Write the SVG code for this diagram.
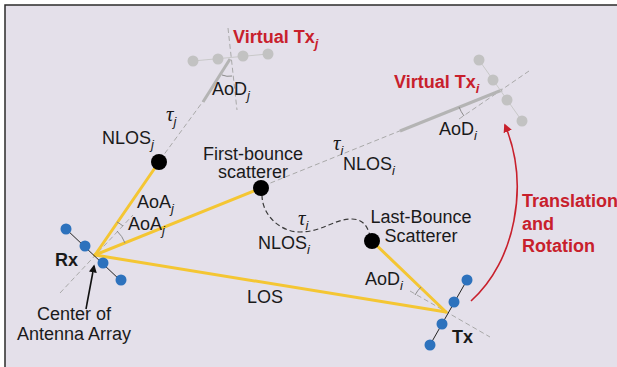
<svg xmlns="http://www.w3.org/2000/svg" width="617" height="367" viewBox="0 0 617 367">
  <defs>
    <style>
      .lbl { font-family: "Liberation Sans", Arial, sans-serif; font-size: 18px; fill: #1a1a1a; }
      .bold { font-weight: bold; }
      .red { fill: #c8202c; font-weight: bold; }
      .sub { font-style: italic; font-size: 13px; }
      .tau { font-family: "Liberation Serif", "Times New Roman", serif; font-style: italic; font-size: 21px; fill: #1a1a1a; }
      .ray { stroke: #f4c633; stroke-width: 3; fill: none; stroke-linecap: round; }
      .guide { stroke: #a9a9a9; stroke-width: 1; stroke-dasharray: 5 3; fill: none; }
      .ghost { stroke: #b4b4b4; stroke-width: 3; fill: none; }
      .arc { stroke: #8a8a8a; stroke-width: 1; fill: none; }
      .blue { fill: #2d72bd; }
      .grey { fill: #c2c2c2; }
      .scat { fill: #000; }
    </style>
    <marker id="headRed" viewBox="0 0 10 10" refX="8" refY="5" markerWidth="5.5" markerHeight="5.5" orient="auto">
      <path d="M0,0 L10,5 L0,10 Z" fill="#c8202c"/>
    </marker>
    <marker id="headBlack" viewBox="0 0 10 10" refX="8" refY="5" markerWidth="5" markerHeight="5" orient="auto">
      <path d="M0,0 L10,5 L0,10 Z" fill="#111"/>
    </marker>
  </defs>

  <!-- panel -->
  <rect x="0" y="0" width="617" height="367" fill="#ffffff"/>
  <rect x="5" y="5" width="612" height="362" fill="#e4e0ea"/>
  <path d="M5,367 V5 H617" stroke="#2b2b2b" stroke-width="1.5" fill="none"/>

  <!-- connectors -->
  <g id="connectors">
    <!-- guide (broadside / extension) lines -->
    <line class="guide" x1="60" y1="293" x2="133" y2="215"/>
    <line class="guide" x1="410" y1="291" x2="490" y2="337"/>
    <line class="guide" x1="228" y1="28" x2="237" y2="110"/>
    <line class="guide" x1="459" y1="119" x2="529" y2="71"/>
    <line class="guide" x1="160" y1="160" x2="204" y2="100"/>
    <line class="guide" x1="263" y1="186" x2="402" y2="130"/>
    <!-- mirrored path segments -->
    <line class="ghost" x1="203" y1="102" x2="230" y2="59"/>
    <line class="ghost" x1="400" y1="131" x2="502" y2="90"/>
    <!-- physical rays -->
    <line class="ray" x1="95" y1="255" x2="159" y2="162"/>
    <line class="ray" x1="95" y1="255" x2="261" y2="188"/>
    <line class="ray" x1="95" y1="255" x2="446" y2="312"/>
    <line class="ray" x1="372" y1="241" x2="446" y2="312"/>
    <!-- multi-bounce path -->
    <path d="M262,195 C262,215 280,232 300,232 C322,232 334,219 352,219 C364,219 368,228 370,236" stroke="#3a3a3a" stroke-width="1.2" stroke-dasharray="5 3" fill="none"/>
    <!-- angle arcs -->
    <path class="arc" d="M117,222 A40,40 0 0 1 123,226"/>
    <path class="arc" d="M117,231 A32,32 0 0 1 125,243"/>
    <path class="arc" d="M415,295 A35,35 0 0 1 421,287"/>
    <path class="arc" d="M222,75 A17,17 0 0 0 232,76"/>
    <path class="arc" d="M459,107 A45,45 0 0 0 464,116"/>
    <!-- transformation arrow -->
    <path d="M471,301 C515,262 530,185 505,125" stroke="#c8202c" stroke-width="1.6" fill="none" marker-end="url(#headRed)"/>
    <!-- pointer to array centre -->
    <line x1="86" y1="309" x2="94" y2="266" stroke="#111" stroke-width="1.6" marker-end="url(#headBlack)"/>
  </g>

  <!-- receiver array -->
  <g id="rx">
    <line x1="66" y1="229" x2="121" y2="281" stroke="#222" stroke-width="1"/>
    <circle class="blue" cx="66" cy="229" r="5.5"/>
    <circle class="blue" cx="85" cy="246" r="5.5"/>
    <circle class="blue" cx="103" cy="263" r="5.5"/>
    <circle class="blue" cx="121" cy="280" r="5.5"/>
    <text class="lbl bold" x="55" y="266" font-size="17">Rx</text>
  </g>

  <g id="array-centre-label">
    <text class="lbl" text-anchor="middle" font-size="17.5"><tspan x="74" y="320">Center of</tspan><tspan x="74" y="340">Antenna Array</tspan></text>
  </g>

  <!-- transmitter array -->
  <g id="tx">
    <line x1="467" y1="280" x2="430" y2="345" stroke="#222" stroke-width="1"/>
    <circle class="blue" cx="467" cy="280" r="5.5"/>
    <circle class="blue" cx="454" cy="302" r="5.5"/>
    <circle class="blue" cx="442" cy="324" r="5.5"/>
    <circle class="blue" cx="430" cy="345" r="5.5"/>
    <text class="lbl bold" x="452" y="343" font-size="17">Tx</text>
  </g>

  <!-- scatterers -->
  <g id="nlos-j">
    <circle class="scat" cx="159" cy="162" r="8"/>
    <text class="lbl" x="102" y="144">NLOS<tspan class="sub" dy="5">j</tspan></text>
  </g>

  <g id="first-bounce">
    <circle class="scat" cx="261" cy="188" r="8"/>
    <text class="lbl" text-anchor="middle" font-size="16.5"><tspan x="253" y="159.5">First-bounce</tspan><tspan x="253" y="178">scatterer</tspan></text>
  </g>

  <g id="last-bounce">
    <circle class="scat" cx="372" cy="241" r="8"/>
    <text class="lbl" text-anchor="middle" font-size="17"><tspan x="421" y="223">Last-Bounce</tspan><tspan x="421" y="242">Scatterer</tspan></text>
  </g>

  <!-- mirrored (virtual) transmitters -->
  <g id="virtual-tx-j">
    <line x1="193" y1="61" x2="268" y2="54" stroke="#c8c8c8" stroke-width="1"/>
    <circle class="grey" cx="193" cy="61" r="5.5"/>
    <circle class="grey" cx="218" cy="59" r="5.5"/>
    <circle class="grey" cx="243" cy="56" r="5.5"/>
    <circle class="grey" cx="268" cy="54" r="5.5"/>
    <text class="lbl red" x="233" y="43">Virtual Tx<tspan class="sub" font-size="14" dy="5">j</tspan></text>
  </g>

  <g id="virtual-tx-i">
    <line x1="479" y1="60" x2="522" y2="121" stroke="#c8c8c8" stroke-width="1"/>
    <circle class="grey" cx="479" cy="60" r="5.5"/>
    <circle class="grey" cx="493" cy="80" r="5.5"/>
    <circle class="grey" cx="507" cy="100" r="5.5"/>
    <circle class="grey" cx="522" cy="121" r="5.5"/>
    <text class="lbl red" x="394" y="88">Virtual Tx<tspan class="sub" font-size="14" dy="5">i</tspan></text>
  </g>

  <!-- path / angle labels -->
  <g id="labels">
    <text class="lbl" x="212" y="95">AoD<tspan class="sub" dy="5">j</tspan></text>
    <text class="tau" x="166" y="121">τ<tspan class="sub" font-family="Liberation Sans, Arial, sans-serif" dy="5">j</tspan></text>
    <text class="lbl" x="439" y="135">AoD<tspan class="sub" dy="5">i</tspan></text>
    <text class="tau" x="333" y="150">τ<tspan class="sub" font-family="Liberation Sans, Arial, sans-serif" dy="5">i</tspan></text>
    <text class="lbl" x="343" y="170">NLOS<tspan class="sub" dy="5">i</tspan></text>
    <text class="lbl" x="137" y="208" font-size="16.5">AoA<tspan class="sub" dy="5">j</tspan></text>
    <text class="lbl" x="128" y="230" font-size="16.5">AoA<tspan class="sub" dy="5">j</tspan></text>
    <text class="tau" x="298" y="225">τ<tspan class="sub" font-family="Liberation Sans, Arial, sans-serif" dy="5">i</tspan></text>
    <text class="lbl" x="258" y="249">NLOS<tspan class="sub" dy="5">i</tspan></text>
    <text class="lbl" x="365" y="285">AoD<tspan class="sub" dy="5">i</tspan></text>
    <text class="lbl" x="247" y="303">LOS</text>
    <text class="lbl red" font-size="16.5"><tspan x="522" y="207">Translation</tspan><tspan x="522" y="230">and</tspan><tspan x="522" y="252">Rotation</tspan></text>
  </g>
</svg>
